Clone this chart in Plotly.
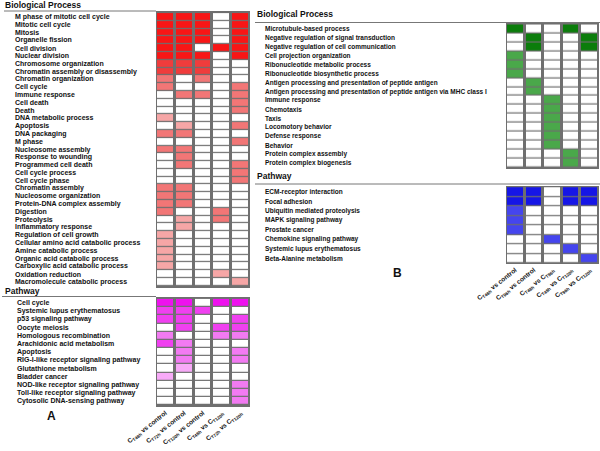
import plotly.graph_objects as go

# ---------------- data ----------------
a_bp_terms = [
    "M phase of mitotic cell cycle", "Mitotic cell cycle", "Mitosis", "Organelle fission",
    "Cell division", "Nuclear division", "Chromosome organization",
    "Chromatin assembly or disassembly", "Chromatin organization", "Cell cycle",
    "Immune response", "Cell death", "Death", "DNA metabolic process", "Apoptosis",
    "DNA packaging", "M phase", "Nucleosome assembly", "Response to wounding",
    "Programmed cell death", "Cell cycle process", "Cell cycle phase", "Chromatin assembly",
    "Nucleosome organization", "Protein-DNA complex assembly", "Digestion", "Proteolysis",
    "Inflammatory response", "Regulation of cell growth",
    "Cellular amino acid catabolic process", "Amine catabolic process",
    "Organic acid catabolic process", "Carboxylic acid catabolic process",
    "Oxidation reduction", "Macromolecule catabolic process",
]
a_bp_levels = [
    [4, 4, 4, 0, 4], [4, 4, 4, 0, 4], [4, 4, 4, 0, 4], [4, 4, 4, 0, 4],
    [4, 4, 0, 4, 4], [4, 4, 4, 0, 4], [3, 3, 3, 0, 0], [3, 3, 3, 0, 0],
    [2, 0, 2, 0, 0], [2, 0, 0, 0, 2], [0, 2, 2, 0, 2], [0, 0, 0, 0, 2],
    [0, 0, 0, 0, 2], [1, 0, 0, 0, 0], [0, 1, 0, 0, 2], [2, 2, 0, 0, 0],
    [0, 0, 0, 0, 2], [2, 2, 0, 0, 0], [0, 2, 0, 0, 0], [0, 2, 0, 0, 2],
    [0, 0, 0, 0, 2], [0, 0, 0, 0, 2], [2, 2, 0, 0, 0], [2, 2, 0, 0, 0],
    [2, 2, 0, 0, 0], [2, 0, 0, 2, 0], [0, 1, 0, 2, 0], [0, 1, 0, 0, 0],
    [1, 0, 0, 0, 0], [1, 0, 0, 0, 0], [1, 0, 0, 0, 0], [1, 0, 0, 0, 0],
    [1, 0, 0, 0, 0], [0, 0, 0, 1, 0], [0, 0, 0, 0, 1],
]

a_pw_terms = [
    "Cell cycle", "Systemic lupus erythematosus", "p53 signaling pathway", "Oocyte meiosis",
    "Homologous recombination", "Arachidonic acid metabolism", "Apoptosis",
    "RIG-I-like receptor signaling pathway", "Glutathione metabolism", "Bladder cancer",
    "NOD-like receptor signaling pathway", "Toll-like receptor signaling pathway",
    "Cytosolic DNA-sensing pathway",
]
a_pw_levels = [
    [4, 4, 0, 4, 4], [3, 3, 3, 0, 0], [3, 3, 0, 0, 3], [0, 3, 0, 3, 3],
    [2, 0, 0, 2, 2], [3, 2, 0, 0, 0], [0, 2, 0, 0, 2], [0, 2, 0, 0, 2],
    [0, 1, 0, 0, 0], [1, 0, 0, 0, 0], [0, 0, 0, 0, 2], [0, 0, 0, 0, 2],
    [0, 0, 0, 0, 2],
]

b_bp_terms = [
    "Microtubule-based process", "Negative regulation of signal transduction",
    "Negative regulation of cell communication", "Cell projection organization",
    "Ribonucleotide metabolic process", "Ribonucleotide biosynthetic process",
    "Antigen processing and presentation of peptide antigen",
    "Antigen processing and presentation of peptide antigen via MHC class I",
    "Immune response", "Chemotaxis", "Taxis", "Locomotory behavior", "Defense response",
    "Behavior", "Protein complex assembly", "Protein complex biogenesis",
]
b_bp_levels = [
    [4, 0, 0, 4, 0], [0, 4, 0, 0, 4], [0, 4, 0, 0, 4], [3, 0, 0, 0, 0],
    [3, 0, 0, 0, 0], [3, 0, 0, 0, 0], [0, 3, 0, 0, 0], [0, 3, 0, 0, 0],
    [0, 0, 3, 0, 0], [0, 0, 3, 0, 0], [0, 0, 3, 0, 0], [0, 0, 3, 0, 0],
    [0, 0, 3, 0, 0], [0, 0, 3, 0, 0], [0, 0, 0, 3, 0], [0, 0, 0, 3, 0],
]

b_pw_terms = [
    "ECM-receptor interaction", "Focal adhesion", "Ubiquitin mediated proteolysis",
    "MAPK signaling pathway", "Prostate cancer", "Chemokine signaling pathway",
    "Systemic lupus erythematosus", "Beta-Alanine metabolism",
]
b_pw_levels = [
    [4, 4, 0, 4, 4], [4, 4, 0, 4, 4], [3, 0, 0, 0, 0], [3, 0, 0, 0, 0],
    [3, 0, 0, 0, 0], [0, 0, 3, 0, 0], [0, 0, 0, 3, 0], [0, 0, 0, 0, 3],
]

a_comparisons = [
    "C<sub>T48h</sub> vs control", "C<sub>T72h</sub> vs control",
    "C<sub>T120h</sub> vs control", "C<sub>T48h</sub> vs C<sub>T120h</sub>",
    "C<sub>T72h</sub> vs C<sub>T120h</sub>",
]
b_comparisons = [
    "C<sub>T48h</sub> vs control", "C<sub>T96h</sub> vs control",
    "C<sub>T48h</sub> vs C<sub>T96h</sub>", "C<sub>T48h</sub> vs C<sub>T120h</sub>",
    "C<sub>T96h</sub> vs C<sub>T120h</sub>",
]

red_shades = ["#ffffff", "#f6a6a6", "#f27676", "#f03c3c", "#f81616"]
magenta_shades = ["#ffffff", "#f8aaf8", "#f27af2", "#f040f0", "#ee12ee"]
green_shades = ["#ffffff", "#8fd08f", "#6cbc6c", "#4aa84a", "#0b7d0b"]
blue_shades = ["#ffffff", "#8c8cf4", "#6a6af0", "#4545ee", "#1616e6"]

# ---------------- figure ----------------
W, H = 600, 451
FONT = "Liberation Sans"


def px_x(v):
    return v / W


def px_y(v):
    return 1 - v / H


def discrete_scale(colors):
    n = len(colors)
    scale = []
    for i, c in enumerate(colors):
        scale.append([i / n, c])
        scale.append([(i + 1) / n, c])
    return scale


panels = [
    (a_bp_terms, a_bp_levels, red_shades, "", (156, 250), (11, 288), None, 13, 7),
    (a_pw_terms, a_pw_levels, magenta_shades, "2", (156, 250), (297, 407), a_comparisons, 15, 7),
    (b_bp_terms, b_bp_levels, green_shades, "3", (506, 599), (23, 169), None, 263, 6.5),
    (b_pw_terms, b_pw_levels, blue_shades, "4", (506, 599), (186, 264), b_comparisons, 263, 6.5),
]

fig = go.Figure()
annotations = []
layout_axes = {}
for terms, levels, colors, ax, (x0, x1), (y0, y1), ticks, lx, fs in panels:
    cols = list(range(len(levels[0])))
    fig.add_trace(go.Heatmap(
        z=levels, x=cols, y=terms,
        colorscale=discrete_scale(colors), zmin=-0.5, zmax=len(colors) - 0.5,
        showscale=False, xgap=3, ygap=1.2,
        xaxis="x" + ax, yaxis="y" + ax, hoverinfo="skip",
    ))
    xa = dict(domain=[px_x(x0), px_x(x1)], anchor="y" + ax, showgrid=False,
              zeroline=False, range=[-0.5, len(cols) - 0.5], fixedrange=True,
              automargin=False)
    if ticks:
        xa.update(tickmode="array", tickvals=cols, ticktext=["<b>" + t + "</b>" for t in ticks],
                  tickangle=-38, ticks="", tickfont=dict(family=FONT, size=6.5, color="#111"),
                  ticklen=0)
    else:
        xa.update(showticklabels=False)
    ya = dict(domain=[px_y(y1), px_y(y0)], anchor="x" + ax, showgrid=False, zeroline=False,
              autorange="reversed", showticklabels=False, type="category", fixedrange=True,
              automargin=False)
    layout_axes["xaxis" + ax] = xa
    layout_axes["yaxis" + ax] = ya
    for t in terms:
        annotations.append(dict(
            text="<b>" + t + "</b>", x=px_x(lx), xref="paper", xanchor="left",
            y=t, yref="y" + ax, yanchor="middle", showarrow=False,
            font=dict(family=FONT, size=fs, color="#111"),
        ))

titles = [
    ("Biological Process", 3, 5),
    ("Pathway", 3, 291),
    ("Biological Process", 255, 14),
    ("Pathway", 255, 176),
]
for txt, x, y in titles:
    annotations.append(dict(text="<b>" + txt + "</b>", x=px_x(x), y=px_y(y), xref="paper",
                            yref="paper", xanchor="left", yanchor="middle", showarrow=False,
                            font=dict(family=FONT, size=8.5, color="#111")))

annotations.append(dict(text="<b>A</b>", x=px_x(45), y=px_y(425), xref="paper", yref="paper",
                        showarrow=False, font=dict(family=FONT, size=12, color="#111")))
annotations.append(dict(text="<b>B</b>", x=px_x(397), y=px_y(273), xref="paper", yref="paper",
                        showarrow=False, font=dict(family=FONT, size=12, color="#111")))

shapes = []
for x0, x1, y in [(4, 156, 11), (2, 156, 296.5), (255, 600, 22.5), (255, 600, 184)]:
    shapes.append(dict(type="line", xref="paper", yref="paper", x0=px_x(x0), x1=px_x(x1),
                       y0=px_y(y), y1=px_y(y), line=dict(color="#777", width=1)))

fig.update_layout(
    width=W, height=H, margin=dict(l=0, r=0, t=0, b=0, autoexpand=False),
    paper_bgcolor="white", plot_bgcolor="#6f6f6f",
    annotations=annotations, shapes=shapes, showlegend=False,
    font=dict(family=FONT),
    **layout_axes,
)

fig.write_html(
    "out.html",
    config={"displayModeBar": False},
    post_script="document.body.style.margin='0';document.body.style.overflow='hidden';",
)
